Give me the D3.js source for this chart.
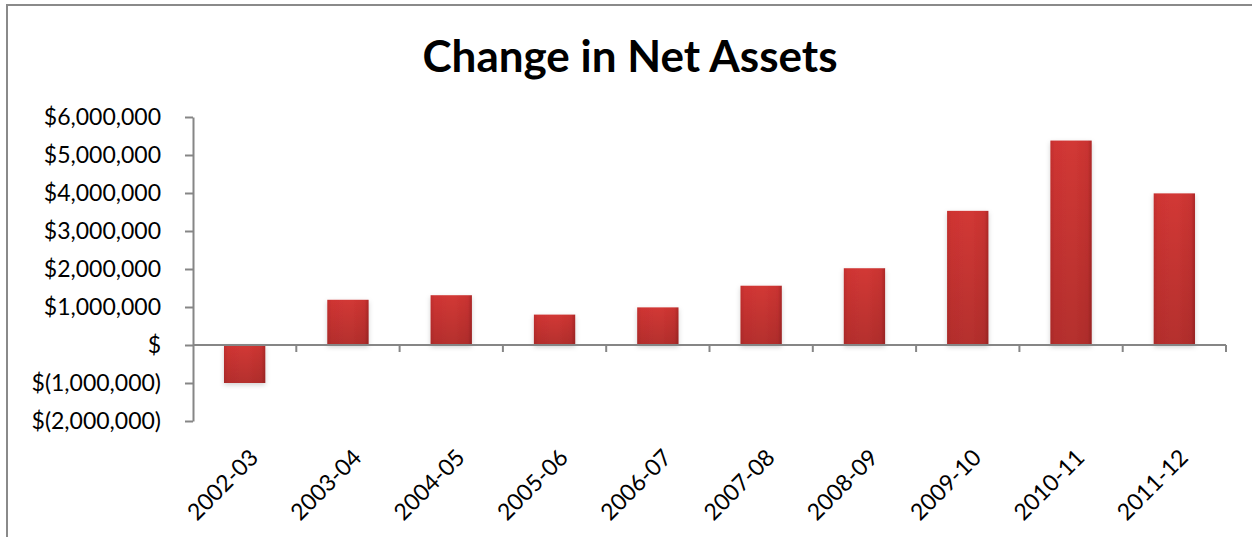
<!DOCTYPE html>
<html>
<head>
<meta charset="utf-8">
<script src="https://cdn.jsdelivr.net/npm/d3@7"></script>
<style>
  html, body { margin: 0; padding: 0; background: #fff; }
  svg { display: block; }
</style>
</head>
<body>
<svg id="chart" width="1252" height="537"></svg>
<script>
// Fiscal years and the change in net assets for each
const years = ["2002-03", "2003-04", "2004-05", "2005-06", "2006-07",
               "2007-08", "2008-09", "2009-10", "2010-11", "2011-12"];
const changeInNetAssets = [-1000000, 1190000, 1310000, 800000, 990000,
                           1560000, 2020000, 3530000, 5380000, 3990000];
const yTickValues = [-2000000, -1000000, 0, 1000000, 2000000,
                     3000000, 4000000, 5000000, 6000000];
const titleText = "Change in Net Assets";

const W = 1252, H = 537;
const plot = { left: 193, right: 1226, top: 117, bottom: 421 };
const axisColor = "#868686";
const font = "Lato, 'Open Sans', sans-serif";

const svg = d3.select("#chart");

// Bar shading: slightly darker edges, darker toward the base
const defs = svg.append("defs");
const grad = defs.append("linearGradient").attr("id", "barFill")
  .attr("x1", "0%").attr("x2", "100%").attr("y1", "0%").attr("y2", "0%");
[["0%", "#c22e2d"], ["10%", "#cf3533"], ["55%", "#d23835"], ["90%", "#c93331"], ["100%", "#ad2828"]]
  .forEach(([o, c]) => grad.append("stop").attr("offset", o).attr("stop-color", c));
const vgrad = defs.append("linearGradient").attr("id", "barShade")
  .attr("x1", "0%").attr("x2", "0%").attr("y1", "0%").attr("y2", "100%");
[["0%", "#000000", 0.0], ["100%", "#000000", 0.14]]
  .forEach(([o, c, a]) => vgrad.append("stop").attr("offset", o).attr("stop-color", c).attr("stop-opacity", a));
const shadow = defs.append("filter").attr("id", "shadow")
  .attr("x", "-30%").attr("y", "-30%").attr("width", "160%").attr("height", "160%");
shadow.append("feDropShadow").attr("dx", 0).attr("dy", 2).attr("stdDeviation", 2.5)
  .attr("flood-color", "#000").attr("flood-opacity", 0.18);

// Outer frame (top and left edges)
svg.append("path")
  .attr("d", `M7,${H} L7,5 L${W},5`)
  .attr("fill", "none").attr("stroke", "#8a8a8a").attr("stroke-width", 2);

// Title
svg.append("text")
  .attr("x", 630).attr("y", 72)
  .attr("text-anchor", "middle")
  .attr("font-family", font).attr("font-weight", "bold").attr("font-size", 44)
  .attr("fill", "#000")
  .text(titleText);

// Scales
const x = d3.scaleBand().domain(years)
  .range([plot.left, plot.right]).paddingInner(0.6).paddingOuter(0.3);
const y = d3.scaleLinear().domain([-2000000, 6000000]).range([plot.bottom, plot.top]);

// Currency labels with accounting-style parentheses
const fmtNum = d3.format(",");
const fmtMoney = v => v === 0 ? "$" : v < 0 ? `$(${fmtNum(-v)})` : `$${fmtNum(v)}`;

// Y axis
const yAxis = svg.append("g")
  .attr("transform", `translate(${plot.left},0)`)
  .call(d3.axisLeft(y).tickValues(yTickValues).tickFormat(fmtMoney)
    .tickSize(8).tickPadding(24).tickSizeOuter(0));
yAxis.select(".domain").attr("stroke", axisColor).attr("stroke-width", 2);
yAxis.selectAll(".tick line").attr("stroke", axisColor).attr("stroke-width", 2);
yAxis.selectAll(".tick text")
  .attr("font-family", font).attr("font-size", 23).attr("fill", "#000");

// Bars
svg.append("g").selectAll("rect.bar")
  .data(years.map((yr, i) => ({ yr, v: changeInNetAssets[i] })))
  .join("rect")
  .attr("class", "bar")
  .attr("x", d => x(d.yr))
  .attr("width", x.bandwidth())
  .attr("y", d => y(Math.max(0, d.v)))
  .attr("height", d => Math.abs(y(d.v) - y(0)))
  .attr("fill", "url(#barFill)")
  .attr("filter", "url(#shadow)");
svg.append("g").selectAll("rect.shade")
  .data(changeInNetAssets)
  .join("rect")
  .attr("class", "shade")
  .attr("x", (d, i) => x(years[i]))
  .attr("width", x.bandwidth())
  .attr("y", d => y(Math.max(0, d)))
  .attr("height", d => Math.abs(y(d) - y(0)))
  .attr("fill", "url(#barShade)");

// Category axis along zero, ticks between categories
const boundaries = d3.range(years.length + 1).map(i => plot.left + i * x.step());
const xAxis = svg.append("g");
xAxis.append("line")
  .attr("x1", plot.left).attr("x2", plot.right)
  .attr("y1", y(0)).attr("y2", y(0))
  .attr("stroke", axisColor).attr("stroke-width", 2);
xAxis.selectAll("line.tick").data(boundaries.slice(1)).join("line")
  .attr("class", "tick")
  .attr("x1", d => d).attr("x2", d => d)
  .attr("y1", y(0)).attr("y2", y(0) + 7)
  .attr("stroke", axisColor).attr("stroke-width", 2);

// Rotated category labels beneath the plot
svg.append("g").selectAll("text").data(years).join("text")
  .attr("transform", d => `translate(${x(d) + x.bandwidth() / 2 + 15},${plot.bottom + 38}) rotate(-45)`)
  .attr("text-anchor", "end")
  .attr("font-family", font).attr("font-size", 23).attr("fill", "#000")
  .text(d => d);
</script>
</body>
</html>
